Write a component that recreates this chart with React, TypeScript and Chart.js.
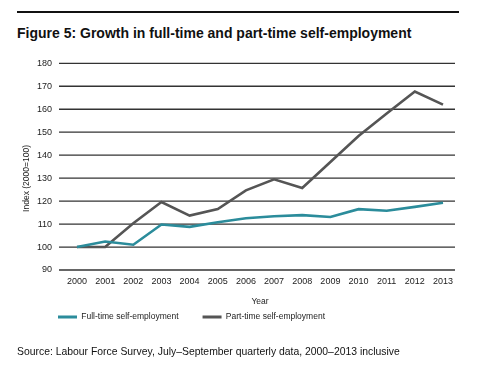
import React, { useEffect, useRef } from "react";
import { Chart, registerables } from "chart.js";

Chart.register(...registerables);

const years = ["2000","2001","2002","2003","2004","2005","2006","2007","2008","2009","2010","2011","2012","2013"];
const fullTime = [100, 102.4, 101, 109.8, 108.8, 110.8, 112.5, 113.4, 113.9, 113.1, 116.5, 115.8, 117.5, 119.3];
const partTime = [100, 100, 110.4, 119.6, 113.7, 116.5, 124.7, 129.5, 125.7, 137, 148.3, 158.1, 167.7, 162];
const seriesNames = ["Full-time self-employment", "Part-time self-employment"];
const yMin = 90;
const yMax = 180;
const yStep = 10;

const TEAL = "#2b8c9b";
const GREY = "#555555";
const FONT = "'Liberation Sans', Arial, Helvetica, sans-serif";

const gridPlugin = {
  id: "customGrid",
  beforeDatasetsDraw(chart: any) {
    const { ctx, chartArea, scales } = chart;
    const y = scales.y;
    ctx.save();
    ctx.strokeStyle = "#333333";
    ctx.lineWidth = 1.3;
    y.ticks.forEach((t: any) => {
      const py = y.getPixelForValue(t.value);
      ctx.beginPath();
      ctx.moveTo(chartArea.left - 18, py);
      ctx.lineTo(chartArea.right + 12, py);
      ctx.stroke();
    });
    ctx.restore();
  },
  afterLayout(chart: any) {
    const lg = chart.legend;
    if (lg) {
      lg.left = 34;
      lg.top = 288.75;
    }
  },
};

export default function App() {
  const ref = useRef<HTMLCanvasElement | null>(null);
  useEffect(() => {
    if (!ref.current) return;
    const chart = new Chart(ref.current, {
      type: "line",
      data: {
        labels: years,
        datasets: [
          { label: seriesNames[0], data: fullTime, borderColor: TEAL, backgroundColor: TEAL, borderWidth: 2.6, pointRadius: 0, tension: 0 },
          { label: seriesNames[1], data: partTime, borderColor: GREY, backgroundColor: GREY, borderWidth: 2.6, pointRadius: 0, tension: 0 },
        ],
      },
      options: {
        animation: false,
        responsive: false,
        maintainAspectRatio: false,
        layout: { padding: { left: 18, right: 41, top: 63.3, bottom: 25.5 } },
        plugins: {
          tooltip: { enabled: false },
          legend: {
            position: "bottom",
            align: "start",
            labels: {
              boxWidth: 19,
              boxHeight: 3,
              padding: 24,
              color: "#222",
              font: { family: FONT, size: 8.5 },
              generateLabels(chart: any) {
                const items = Chart.defaults.plugins.legend.labels.generateLabels(chart);
                return items.map((it: any) => ({ ...it, lineWidth: 0 }));
              },
            },
          },
        },
        scales: {
          x: {
            offset: false,
            grid: { display: false, drawTicks: false },
            border: { display: false },
            ticks: { padding: 6, color: "#222", font: { family: FONT, size: 9 }, maxRotation: 0, autoSkip: false },
            title: { display: true, text: "Year", color: "#222", font: { family: FONT, size: 8.5 }, padding: { top: 4, bottom: 2 } },
          },
          y: {
            min: yMin,
            max: yMax,
            grid: { display: false, drawTicks: false },
            border: { display: false },
            ticks: { stepSize: yStep, padding: 25, color: "#222", font: { family: FONT, size: 9 } },
            title: { display: true, text: "Index (2000=100)          ", color: "#222", font: { family: FONT, size: 8.5 }, padding: { top: 4, bottom: 4 } },
            afterFit(scale: any) { scale.width = 59; },
          },
        },
      },
      plugins: [gridPlugin],
    });
    return () => chart.destroy();
  }, []);

  return (
    <div style={{ position: "absolute", left: 0, top: 0, width: 484, height: 377, background: "#fff", fontFamily: FONT }}>
      <div style={{ position: "absolute", left: 17, top: 11, width: 442, height: 2, background: "#111" }} />
      <div style={{ position: "absolute", left: 17, top: 24, fontSize: 14, fontWeight: "bold", lineHeight: "18px", color: "#111", whiteSpace: "nowrap" }}>
        Figure 5: Growth in full-time and part-time self-employment
      </div>
      <canvas ref={ref} width={484} height={377} style={{ position: "absolute", left: 0, top: 0 }} />
      <div style={{ position: "absolute", left: 17, top: 345, fontSize: 10.4, lineHeight: "14px", color: "#111", whiteSpace: "nowrap" }}>
        Source: Labour Force Survey, July–September quarterly data, 2000–2013 inclusive
      </div>
    </div>
  );
}
